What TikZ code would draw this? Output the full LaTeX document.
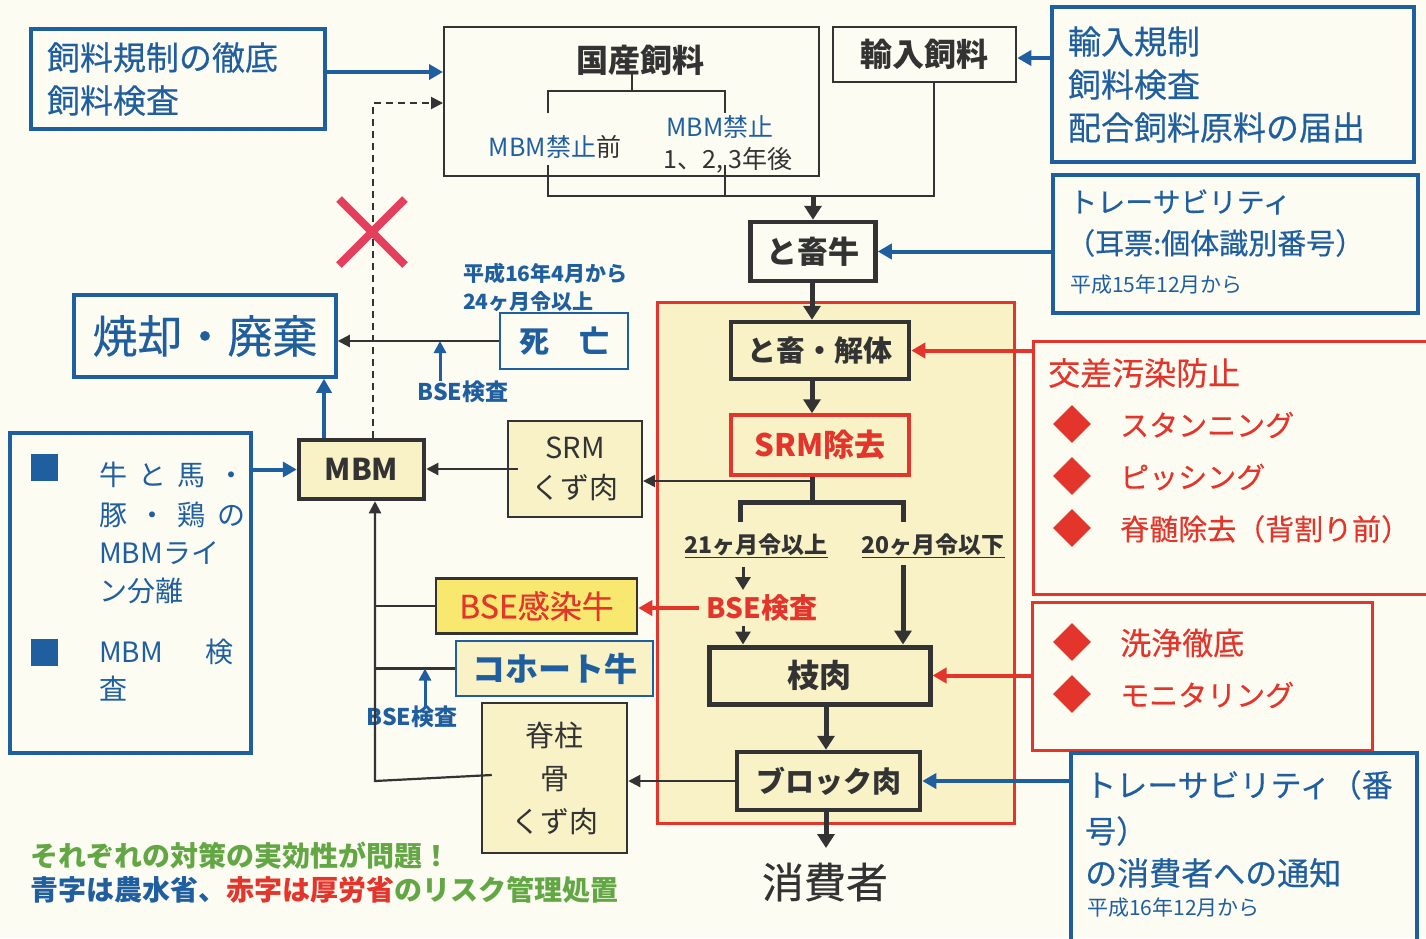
\documentclass[tikz,border=0pt]{standalone}
\usepackage{fontspec}
\setmainfont{Noto Sans CJK JP}
\newfontfamily\md{Noto Sans CJK JP}[FakeBold=0.4]
\usetikzlibrary{arrows.meta,shapes.geometric}
\definecolor{bg}{HTML}{FDFCF2}
\definecolor{bl}{HTML}{1F5FA0}
\definecolor{rd}{HTML}{E3352B}
\definecolor{dk}{HTML}{333333}
\definecolor{yl}{HTML}{F8F2C6}
\definecolor{ylb}{HTML}{F8E870}
\definecolor{gn}{HTML}{62A744}
\definecolor{xr}{HTML}{E4405E}
\newcommand\myfs[1]{\fontsize{#1}{#1}\selectfont}
\begin{document}
\begin{tikzpicture}[x=1pt,y=-1pt,
  bx/.style={draw, rectangle, inner sep=0pt},
  tx/.style={inner sep=0pt},
  flowA/.style={draw=dk, line width=5pt, -{Triangle[length=14pt,width=17pt]}},
  flowL/.style={draw=dk, line width=5pt},
  thinA/.style={draw=dk, line width=2.2pt, -{Triangle[length=12pt,width=12pt]}},
  thinL/.style={draw=dk, line width=2.2pt},
  blA/.style={draw=bl, line width=4pt, -{Triangle[length=14pt,width=15pt]}},
  blS/.style={draw=bl, line width=3pt, -{Triangle[length=12pt,width=12pt]}},
  rdA/.style={draw=rd, line width=4pt, -{Triangle[length=14pt,width=15pt]}},
  dia/.style={diamond, fill=rd, minimum width=38pt, minimum height=38pt, inner sep=0pt},
  sq/.style={fill=bl, minimum size=27pt, inner sep=0pt}
]
\fill[bg] (0,0) rectangle (1426,938);
\useasboundingbox (0,0) rectangle (1426,938);

% zone
\node[bx, draw=rd, fill=yl, line width=3pt, minimum width=357pt, minimum height=521pt] (zone) at (835.5,562.5) {};

% top left feed regulation box
\node[bx, draw=bl, line width=3.5pt, minimum width=294pt, minimum height=100pt, text width=262pt, align=left, inner xsep=16pt, text=bl, font=\md\fontsize{33}{43}\selectfont] (feedreg) at (178,79) {飼料規制の徹底\\飼料検査};

% domestic feed
\node[bx, draw=dk, line width=2pt, minimum width=375pt, minimum height=149pt] (kokusan) at (631.5,101.5) {};
\node[tx, text=dk, font=\bfseries\myfs{32}] (kt) at (640,60) {国産飼料};
\node[tx, font=\myfs{25}] (pre) at (555,147) {\textcolor{bl}{MBM禁止}\textcolor{dk}{前}};
\node[tx, text=bl, font=\myfs{25}] (post) at (720,127) {MBM禁止};
\node[tx, text=dk, font=\myfs{25}] (yrs) at (728,160) {1、2, 3年後};

% imported feed
\node[bx, draw=dk, line width=2.5pt, minimum width=183pt, minimum height=55pt, text=dk, font=\bfseries\myfs{32}] (yunyu) at (924.5,54.5) {輸入飼料};

% import regulation
\node[bx, draw=bl, line width=3.5pt, minimum width=362pt, minimum height=155pt, text width=330pt, align=left, inner xsep=16pt, text=bl, font=\md\fontsize{33}{43}\selectfont] (yunyureg) at (1233,84.5) {輸入規制\\飼料検査\\配合飼料原料の届出};

% traceability 1
\node[bx, draw=bl, line width=3.5pt, minimum width=365pt, minimum height=138pt] (trace1) at (1235.5,244) {};
\node[tx, anchor=west, text=bl, font=\md\myfs{28}] (t1a) at (1069,202) {トレーサビリティ};
\node[tx, anchor=west, text=bl, font=\md\myfs{29}] (t1b) at (1066,243) {（耳票:個体識別番号）};
\node[tx, anchor=west, text=bl, font=\myfs{21}] (t1c) at (1070,285) {平成15年12月から};

% main chain
\node[bx, draw=dk, line width=4.5pt, minimum width=125pt, minimum height=59pt, text=dk, font=\bfseries\myfs{31}] (tochiku) at (813,251.5) {と畜牛};
\node[bx, draw=dk, line width=4.5pt, fill=yl, minimum width=178pt, minimum height=57pt, text=dk, font=\bfseries\myfs{29}] (kaitai) at (820,350.5) {と畜・解体};
\node[bx, draw=rd, line width=3.5pt, fill=yl, minimum width=178pt, minimum height=60pt, text=rd, font=\bfseries\myfs{31}] (srmjo) at (820,445) {SRM除去};
\node[bx, draw=dk, line width=5pt, fill=yl, minimum width=221pt, minimum height=57pt, text=dk, font=\bfseries\myfs{32}] (edaniku) at (819.5,675.5) {枝肉};
\node[bx, draw=dk, line width=4.5pt, fill=yl, minimum width=183pt, minimum height=58pt, text=dk, font=\bfseries\myfs{29}] (block) at (828.5,781) {ブロック肉};
\node[tx, text=dk, font=\md\myfs{42}] (shohi) at (825,882) {消費者};

\node[tx, text=dk, font=\bfseries\myfs{23}] (a21) at (756,546) {\underline{21ヶ月令以上}};
\node[tx, text=dk, font=\bfseries\myfs{23}] (a20) at (933,546) {\underline{20ヶ月令以下}};
\node[tx, text=rd, font=\bfseries\myfs{28}] (bser) at (762,608) {BSE検査};

% spine coordinates
\coordinate (sp) at (812,0);
\coordinate (sp2) at (826,0);
\coordinate (j1) at (548,196);
\coordinate (j2) at (725,196);
\coordinate (j3) at (934,196);
\coordinate (jm) at (813,196);
\coordinate (kt0) at (632,72);
\coordinate (bt) at (632,91);
\coordinate (bl1) at (548,91);
\coordinate (br1) at (725,91);
\coordinate (bl2) at (548,113);
\coordinate (br2) at (725,113);
\coordinate (bl3) at (548,165);
\coordinate (br3) at (725,165);

\draw[dk, line width=2pt] (kt0) -- (bt);
\draw[dk, line width=2pt] (bl2) -- (bl1) -- (br1) -- (br2);
\draw[dk, line width=2pt] (bl3) -- (j1) -- (j3) -- (yunyu.south -| j3);
\draw[dk, line width=2pt] (br3) -- (j2);
\draw[flowA] (jm) -- (jm |- tochiku.north);
\draw[flowA] (sp |- tochiku.south) -- (sp |- kaitai.north);
\draw[flowA] (sp |- kaitai.south) -- (sp |- srmjo.north);

% branch
\coordinate (br0) at (812,502);
\coordinate (bL) at (740,502);
\coordinate (bR) at (903,502);
\coordinate (bL2) at (740,522);
\coordinate (bR2) at (903,522);
\draw[flowL] (sp |- srmjo.south) -- (br0);
\draw[flowL, line join=miter] (bL2) -- (bL) -- (bR) -- (bR2);
\coordinate (s21a) at (743,567);
\coordinate (s21b) at (743,590);
\coordinate (s21c) at (743,626);
\coordinate (s20) at (903,565);
\draw[draw=dk, line width=3pt, -{Triangle[length=13pt,width=15pt]}] (s21a) -- (s21b);
\draw[draw=dk, line width=3pt, -{Triangle[length=13pt,width=15pt]}] (s21c) -- (s21c |- edaniku.north);
\draw[flowA] (s20) -- (s20 |- edaniku.north);
\draw[flowA] (sp2 |- edaniku.south) -- (sp2 |- block.north);
\coordinate (shtop) at (826,848);
\draw[flowA] (sp2 |- block.south) -- (shtop);

% left side nodes
\node[bx, draw=dk, line width=4.5pt, fill=yl, minimum width=125pt, minimum height=59pt, text=dk, font=\bfseries\myfs{30}] (mbm) at (361.5,469.5) {MBM};
\node[bx, draw=dk, line width=2.2pt, fill=yl, minimum width=134pt, minimum height=96pt, align=center, text=dk, font=\fontsize{29}{40}\selectfont] (srmk) at (575,469) {SRM\\くず肉};
\node[bx, draw=bl, line width=3.5pt, minimum width=262pt, minimum height=82pt, text=bl, font=\md\myfs{45}] (shokyaku) at (205,336) {焼却・廃棄};
\node[bx, draw=bl, line width=2.5pt, minimum width=128pt, minimum height=56pt, text=bl, font=\bfseries\myfs{30}] (shibou) at (564,341) {死　亡};
\node[tx, anchor=west, text=bl, font=\bfseries\myfs{21}] (h16) at (463,273) {平成16年4月から};
\node[tx, anchor=west, text=bl, font=\bfseries\myfs{21}] (m24) at (463,302) {24ヶ月令以上};
\node[tx, text=bl, font=\bfseries\myfs{23}] (bse1) at (463,392) {BSE検査};

\node[bx, draw=dk, line width=2.5pt, fill=ylb, minimum width=201pt, minimum height=55pt, text=rd, font=\md\myfs{32}] (bsecow) at (536.5,606) {BSE感染牛};
\node[bx, draw=bl, line width=2.5pt, fill=yl, minimum width=197pt, minimum height=55pt, text=bl, font=\bfseries\myfs{33}] (cohort) at (554.5,668.5) {コホート牛};
\node[tx, text=bl, font=\bfseries\myfs{23}] (bse2) at (412,717) {BSE検査};
\node[bx, draw=dk, line width=2.5pt, fill=yl, minimum width=145pt, minimum height=150pt, align=center, text=dk, font=\fontsize{29}{43}\selectfont] (sekichu) at (554.5,778) {脊柱\\骨\\くず肉};

% left legend box
\node[bx, draw=bl, line width=3.5pt, minimum width=241pt, minimum height=320pt] (leftbox) at (130.5,593) {};
\node[sq] (sq1) at (44.5,467) {};
\node[sq] (sq2) at (44.5,652) {};
\node[tx, anchor=west, text=bl, font=\myfs{28}] (l1) at (99,475) {\makebox[146pt][l]{牛\hfill と\hfill 馬\hfill ・}};
\node[tx, anchor=west, text=bl, font=\myfs{28}] (l2) at (99,515) {\makebox[146pt][l]{豚\hfill ・\hfill 鶏\hfill の}};
\node[tx, anchor=west, text=bl, font=\myfs{28}] (l3) at (99,553) {MBMライ};
\node[tx, anchor=west, text=bl, font=\myfs{28}] (l4) at (99,591) {ン分離};
\node[tx, anchor=west, text=bl, font=\myfs{28}] (l5) at (99,652) {\makebox[134pt][l]{MBM\hfill 検}};
\node[tx, anchor=west, text=bl, font=\myfs{28}] (l6) at (99,689) {査};

% connectors on left
\coordinate (ky) at (0,72);
\draw[blA] (feedreg.east |- ky) -- (kokusan.west |- ky);
\coordinate (dsh) at (373,103);
\draw[draw=dk, line width=2pt, dash pattern=on 7pt off 5pt, -{Triangle[length=12pt,width=12pt]}] (mbm.north -| dsh) -- (dsh) -- (dsh -| kokusan.west);
\coordinate (up) at (324,0);
\draw[blA] (up |- mbm.north) -- (up |- shokyaku.south);
\draw[thinA] (shibou.west) -- (shibou.west -| shokyaku.east);
\coordinate (c440) at (440,0);
\draw[blS] (c440 |- bse1.north) -- (c440 |- shibou.west);
\draw[blA] (leftbox.east |- mbm.west) -- (mbm.west);
\coordinate (srmsplit) at (812,481);
\draw[thinA] (srmsplit) -- (srmsplit -| srmk.east);
\draw[thinA] ([xshift=11pt]srmk.west) -- (srmk.west -| mbm.east);
\coordinate (vx) at (375,781);
\draw[thinA] ([xshift=11pt,yshift=3pt]sekichu.west) -- (vx) -- (vx |- mbm.south);
\draw[thinL] (bsecow.west) -- (bsecow.west -| vx);
\draw[thinL] (cohort.west) -- (cohort.west -| vx);
\coordinate (c425) at (425,0);
\draw[blS] (c425 |- bse2.north) -- (c425 |- cohort.west);
\draw[rdA] ([xshift=-8pt]bser.west) -- (bser.west -| bsecow.east);
\draw[thinA] (block.west) -- (block.west -| sekichu.east);

% red X
\draw[xr, line width=8pt] (339,199) -- (405,265);
\draw[xr, line width=8pt] (339,265) -- (405,199);

% right side
\coordinate (ya) at (0,58);
\draw[blA] (yunyureg.west |- ya) -- (yunyu.east |- ya);
\draw[blA] (trace1.west |- tochiku.east) -- (tochiku.east);

\node[bx, draw=rd, line width=3pt, minimum width=410pt, minimum height=253pt] (cc) at (1238,467.5) {};
\node[tx, anchor=west, text=rd, font=\md\myfs{32}] (cct) at (1048,373) {交差汚染防止};
\node[dia] (d1) at (1072,424) {};
\node[dia] (d2) at (1072,476) {};
\node[dia] (d3) at (1072,528) {};
\node[tx, anchor=west, text=rd, font=\md\myfs{29}] (cc1) at (1120,425) {スタンニング};
\node[tx, anchor=west, text=rd, font=\md\myfs{29}] (cc2) at (1120,477) {ピッシング};
\node[tx, anchor=west, text=rd, font=\md\myfs{29}] (cc3) at (1120,529) {脊髄除去（背割り前）};
\draw[rdA] (cc.west |- kaitai.east) -- (kaitai.east);

\node[bx, draw=rd, line width=3pt, minimum width=340pt, minimum height=148pt] (wash) at (1202,676) {};
\node[dia] (d4) at (1072,642) {};
\node[dia] (d5) at (1072,694) {};
\node[tx, anchor=west, text=rd, font=\md\myfs{31}] (w1) at (1120,643) {洗浄徹底};
\node[tx, anchor=west, text=rd, font=\md\myfs{29}] (w2) at (1120,695) {モニタリング};
\draw[rdA] (wash.west |- edaniku.east) -- (edaniku.east);

\node[bx, draw=bl, line width=3.5pt, minimum width=346pt, minimum height=200pt] (trace2) at (1244,853) {};
\node[tx, anchor=west, text=bl, font=\md\myfs{31}] (t2a) at (1085,785) {トレーサビリティ（番};
\node[tx, anchor=west, text=bl, font=\md\myfs{31}] (t2b) at (1085,831) {号）};
\node[tx, anchor=west, text=bl, font=\md\myfs{32}] (t2c) at (1085,873) {の消費者への通知};
\node[tx, anchor=west, text=bl, font=\myfs{21}] (t2d) at (1087,908) {平成16年12月から};
\draw[blA] (trace2.west |- block.east) -- (block.east);

% bottom notes
\node[tx, anchor=west, text=gn, font=\bfseries\myfs{28}] (note1) at (30,856) {それぞれの対策の実効性が問題！};
\node[tx, anchor=west, font=\bfseries\myfs{28}] (note2) at (30,890) {\textcolor{bl}{青字は農水省、}\textcolor{rd}{赤字は厚労省}\textcolor{gn}{のリスク管理処置}};
\end{tikzpicture}
\end{document}
